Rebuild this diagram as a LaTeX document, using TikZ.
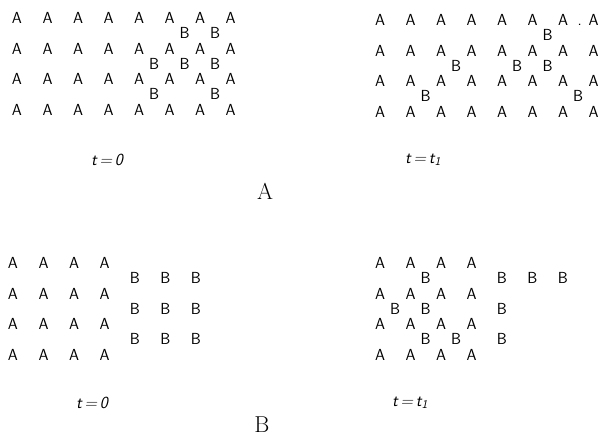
\documentclass[tikz,border=0pt]{standalone}
\usepackage{tikz}

\begin{document}
\begin{tikzpicture}[
  x=1pt, y=-1pt,
  %%── Styles ───────────────────────────────────────────────────────────────
  atom/.style={inner sep=0pt, font=\sffamily\fontsize{16}{16}\selectfont},
  timelbl/.style={inner sep=0pt, font=\sffamily\itshape\fontsize{17}{17}\selectfont},
  panellbl/.style={inner sep=0pt, font=\rmfamily\fontsize{23}{23}\selectfont},
  lattice/.style={x=30.5pt, y=-30.5pt},
]
\useasboundingbox (0,0) rectangle (603,436);

%%════════════════════════════════════════════════════════════════
%% PANEL A — t=0 (B on interstitial sites, right side)
%%════════════════════════════════════════════════════════════════
\begin{scope}[shift={(17,18)}, lattice]
  \foreach \c in {0,...,7} {
    \foreach \r in {0,...,3} {
      \node[atom] (a0a-\c-\r) at (\c,\r) {A};
    }
  }
  \foreach \c/\r [count=\i] in {5.5/0.5, 6.5/0.5, 4.5/1.5, 5.5/1.5,
                                6.5/1.5, 4.5/2.5, 6.5/2.5} {
    \node[atom] (a0b-\i) at (\c,\r) {B};
  }
\end{scope}

%%════════════════════════════════════════════════════════════════
%% PANEL A — t=t1 (B spread over the lattice)
%%════════════════════════════════════════════════════════════════
\begin{scope}[shift={(380,20)}, lattice]
  \foreach \c in {0,...,7} {
    \foreach \r in {0,...,3} {
      \node[atom] (a1a-\c-\r) at (\c,\r) {A};
    }
  }
  \foreach \c/\r [count=\i] in {5.5/0.5, 2.5/1.5, 4.5/1.5, 5.5/1.5,
                                1.5/2.5, 6.5/2.5} {
    \node[atom] (a1b-\i) at (\c,\r) {B};
  }
  \node[atom] (a1dot) at (6.55,0.16) {.};
\end{scope}

\node[timelbl] (ta0) at (107,160) {t\,=\,0};
\node[timelbl] (ta1) at (423,160) {t\,=\,t\textsubscript{1}};
\node[panellbl] (lblA) at (265,191) {A};

%%════════════════════════════════════════════════════════════════
%% PANEL B — t=0 (separate A and B blocks)
%%════════════════════════════════════════════════════════════════
\begin{scope}[shift={(13,263)}, lattice]
  \foreach \c in {0,...,3} {
    \foreach \r in {0,...,3} {
      \node[atom] (b0a-\c-\r) at (\c,\r) {A};
    }
  }
  \foreach \c in {4,...,6} {
    \foreach \r in {0.5,1.5,2.5} {
      \node[atom] (b0b-\c-\r) at (\c,\r) {B};
    }
  }
\end{scope}

%%════════════════════════════════════════════════════════════════
%% PANEL B — t=t1 (B entering the A block)
%%════════════════════════════════════════════════════════════════
\begin{scope}[shift={(380,263)}, lattice]
  \foreach \c in {0,...,3} {
    \foreach \r in {0,...,3} {
      \node[atom] (b1a-\c-\r) at (\c,\r) {A};
    }
  }
  \foreach \c/\r [count=\i] in {1.5/0.5, 0.5/1.5, 1.5/1.5, 1.5/2.5, 2.5/2.5,
                                4/0.5, 5/0.5, 6/0.5, 4/1.5, 4/2.5} {
    \node[atom] (b1b-\i) at (\c,\r) {B};
  }
\end{scope}

\node[timelbl] (tb0) at (92,403) {t\,=\,0};
\node[timelbl] (tb1) at (410,403) {t\,=\,t\textsubscript{1}};
\node[panellbl] (lblB) at (262,425) {B};

\end{tikzpicture}
\end{document}
